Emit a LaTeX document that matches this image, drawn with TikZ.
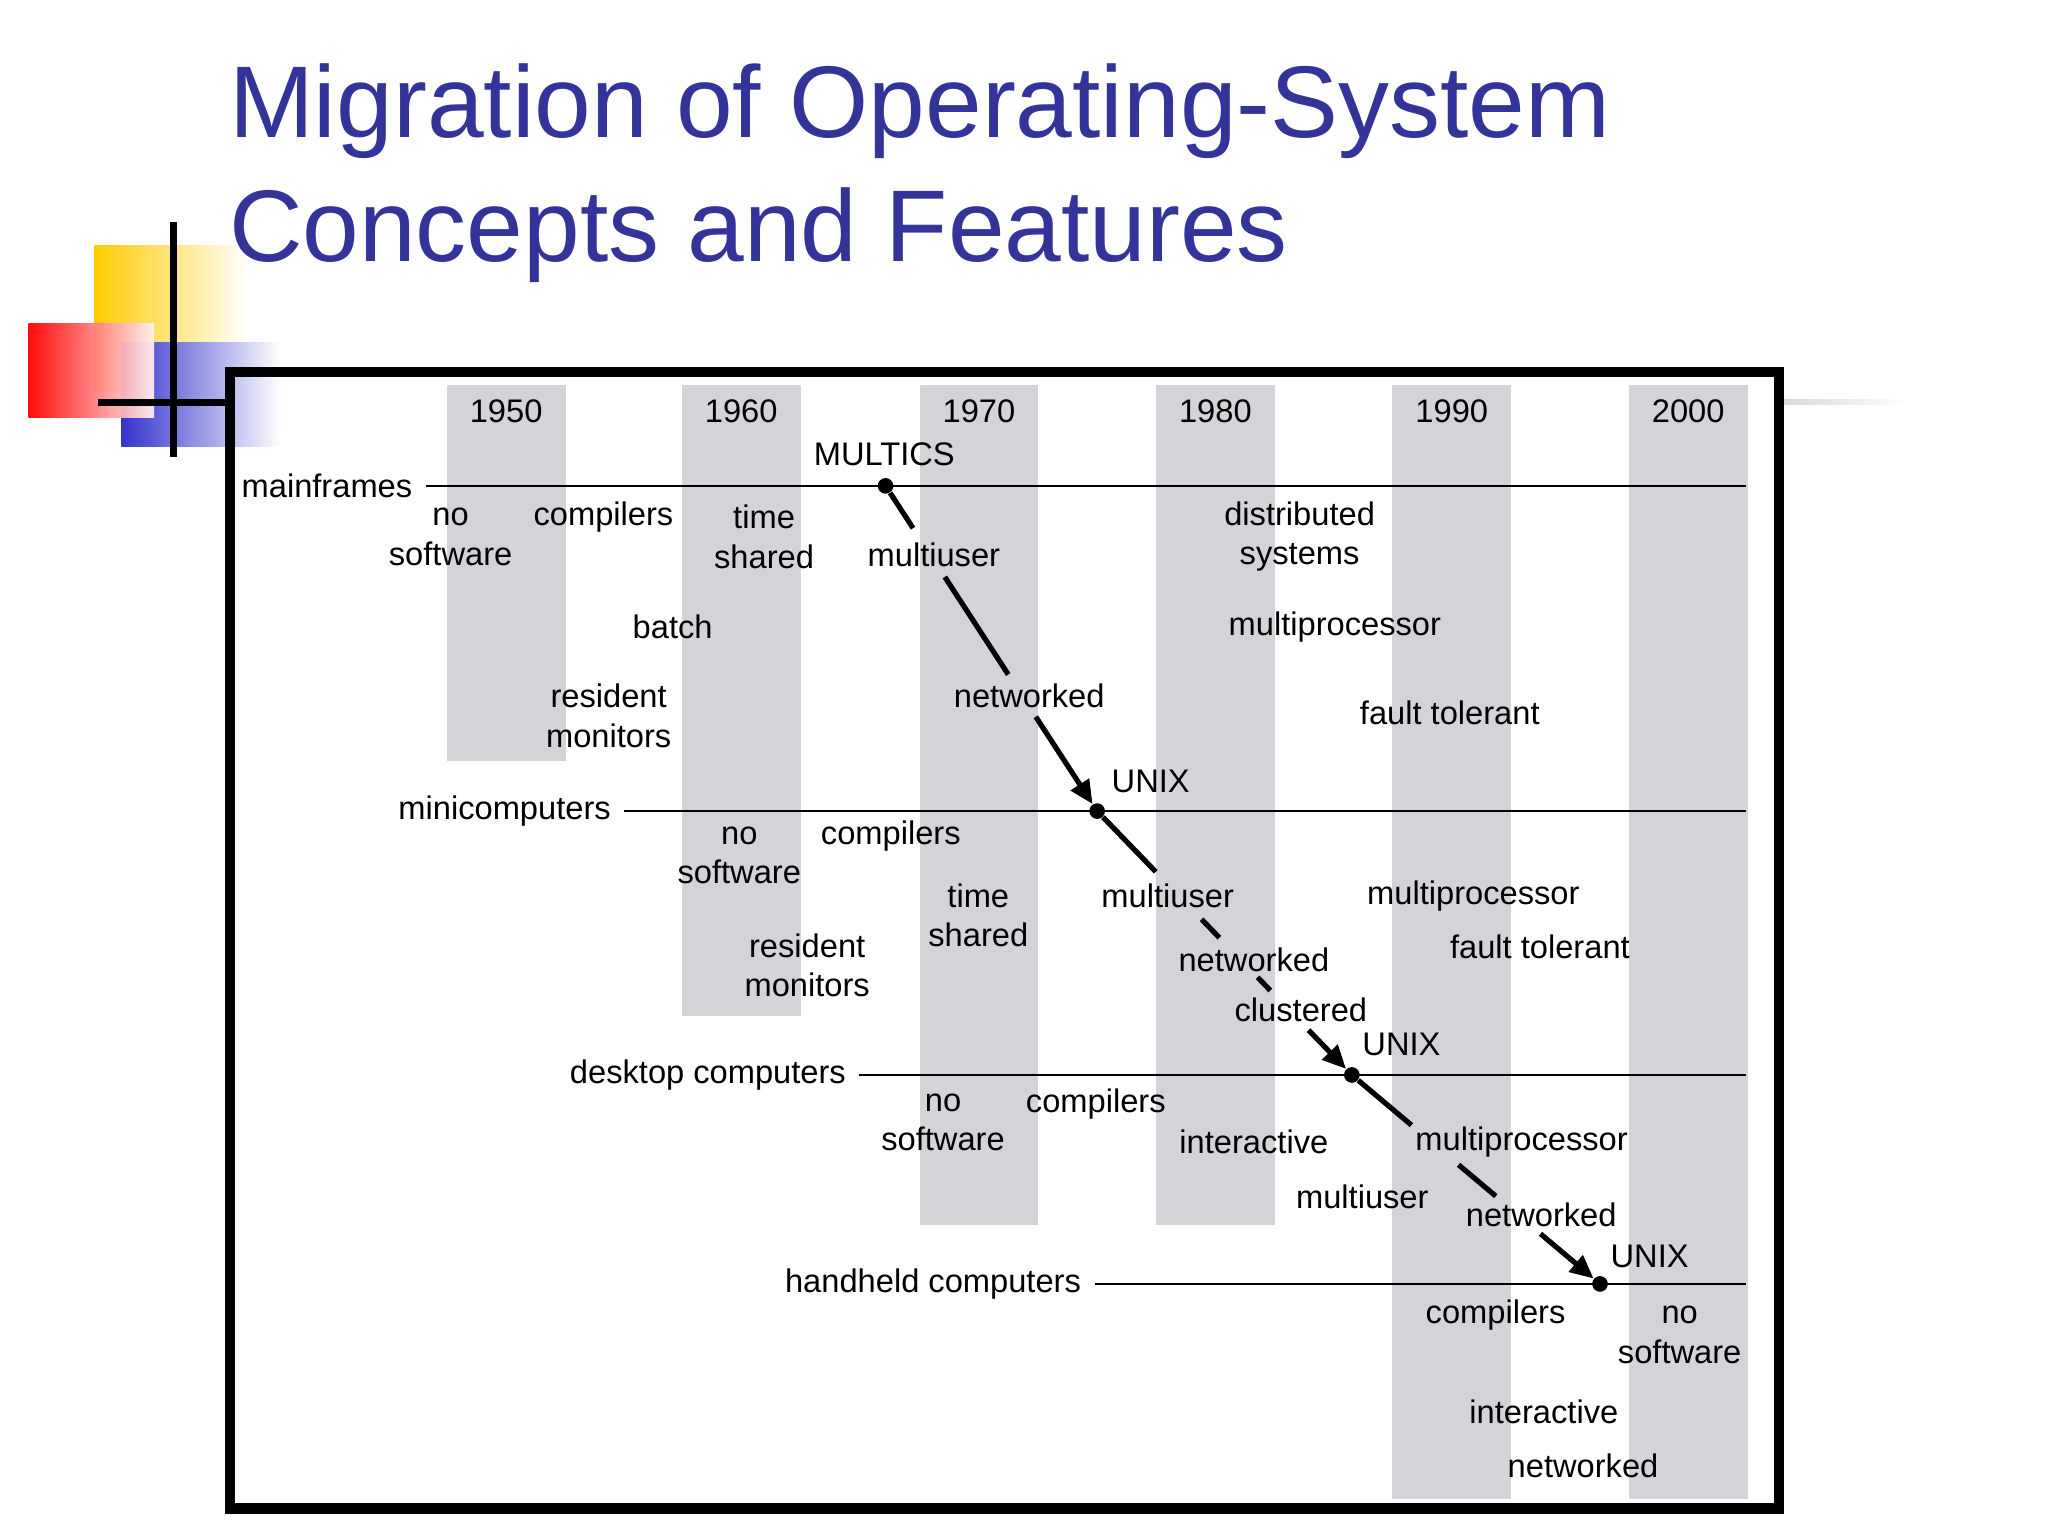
\documentclass[tikz,border=0pt]{standalone}
\usepackage{fontspec}
\setmainfont{Liberation Sans}
\usetikzlibrary{calc,arrows.meta}
\definecolor{ttl}{RGB}{51,51,153}
\definecolor{col}{RGB}{213,211,215}
\definecolor{lyel}{RGB}{255,204,0}
\definecolor{lblu}{RGB}{51,51,204}
\tikzset{lbl/.style={font=\fontsize{12.5}{15}\selectfont,align=center,inner sep=0pt},
 yr/.style={lbl},
 tl/.style={line width=1pt},
 arr/.style={line width=2pt},
 dot/.style={circle,fill=black,inner sep=0pt,minimum size=6pt}}
\begin{document}
\begin{tikzpicture}[x=0.5pt,y=-0.5pt]
\useasboundingbox (0,0) rectangle (1568,1176);
% logo
\shade[left color=lyel,right color=white] (72,188) rectangle (190,300);
\shade[left color=lblu,right color=white] (93,262) rectangle (215,342);
\shade[left color=red,right color=red!5,opacity=0.95] (22,248) rectangle (118,320);
\draw[line width=2.5pt] (133,170) -- (133,350);
\draw[line width=2.5pt] (75,308) -- (178,308);
\shade[left color=gray!30,right color=white] (1365,306) rectangle (1460,310);
% title
\node[anchor=base west,text=ttl,font=\fontsize{39}{47}\selectfont,inner sep=0pt] (t1) at (175,105) {Migration of Operating-System};
\node[anchor=base west,text=ttl,font=\fontsize{39}{47}\selectfont,inner sep=0pt] (t2) at (175,200) {Concepts and Features};
% columns
\foreach \x/\b/\y in {342/583/1950,522/778/1960,704/938/1970,885/938/1980,1066/1148/1990,1247/1148/2000}{
 \fill[col] (\x,295) rectangle ++(91,\b-295);
 \node[yr] at (\x+45.5,315) {\y};}
% frame
\draw[line width=4pt] (176,285) rectangle (1362,1155);
% timelines
\node[lbl,anchor=east] (mf) at (316,372) {mainframes};
\node[lbl,anchor=east] (mc) at (468,621) {minicomputers};
\node[lbl,anchor=east] (dc) at (648,823) {desktop computers};
\node[lbl,anchor=east] (hc) at (828,983) {handheld computers};
\coordinate (e1) at (1337,372);\coordinate (e2) at (1337,621);
\coordinate (e3) at (1337,823);\coordinate (e4) at (1337,983);
\draw[tl] ([xshift=5pt]mf.east) -- (e1);
\draw[tl] ([xshift=5pt]mc.east) -- (e2);
\draw[tl] ([xshift=5pt]dc.east) -- (e3);
\draw[tl] ([xshift=5pt]hc.east) -- (e4);
\node[dot] (d1) at (678,372) {};
\node[dot] (d2) at (840,621) {};
\node[dot] (d3) at (1035,823) {};
\node[dot] (d4) at (1225,983) {};
% arrows (segments)
\draw[arr] (d1) -- ($(d1)!0.13!(d2)$);
\draw[arr] ($(d1)!0.28!(d2)$) -- ($(d1)!0.58!(d2)$);
\draw[arr,-{Triangle[length=9pt,width=8pt]}] ($(d1)!0.71!(d2)$) -- (d2);
\draw[arr] (d2) -- ($(d2)!0.23!(d3)$);
\draw[arr] ($(d2)!0.41!(d3)$) -- ($(d2)!0.48!(d3)$);
\draw[arr] ($(d2)!0.63!(d3)$) -- ($(d2)!0.68!(d3)$);
\draw[arr,-{Triangle[length=9pt,width=8pt]}] ($(d2)!0.83!(d3)$) -- (d3);
\draw[arr] (d3) -- ($(d3)!0.24!(d4)$);
\draw[arr] ($(d3)!0.43!(d4)$) -- ($(d3)!0.58!(d4)$);
\draw[arr,-{Triangle[length=9pt,width=8pt]}] ($(d3)!0.76!(d4)$) -- (d4);
% labels mainframes
\node[lbl] (a1) at (345,411) {no\\software};
\node[lbl] (a2) at (462,396) {compilers};
\node[lbl] (a3) at (585,411) {time\\shared};
\node[lbl] (a4) at (677,348) {MULTICS};
\node[lbl] (a5) at (715,425) {multiuser};
\node[lbl] (a6) at (995,411) {distributed\\systems};
\node[lbl] (a7) at (515,480) {batch};
\node[lbl] (a8) at (1022,480) {multiprocessor};
\node[lbl] (a9) at (466,548) {resident\\monitors};
\node[lbl] (a10) at (788,533) {networked};
\node[lbl] (a11) at (1110,546) {fault tolerant};
\node[lbl] (a12) at (881,598) {UNIX};
% mini
\node[lbl] (b1) at (566,655) {no\\software};
\node[lbl] (b2) at (682,640) {compilers};
\node[lbl] (b3) at (749,701) {time\\shared};
\node[lbl] (b4) at (894,686) {multiuser};
\node[lbl] (b5) at (1128,686) {multiprocessor};
\node[lbl] (b6) at (1179,725) {fault tolerant};
\node[lbl] (b7) at (618,739) {resident\\monitors};
\node[lbl] (b8) at (960,735) {networked};
\node[lbl] (b9) at (996,773) {clustered};
\node[lbl] (b10) at (1073,800) {UNIX};
% desktop
\node[lbl] (c1) at (722,859) {no\\software};
\node[lbl] (c2) at (839,845) {compilers};
\node[lbl] (c3) at (960,874) {interactive};
\node[lbl] (c4) at (1165,874) {multiprocessor};
\node[lbl] (c5) at (1043,916) {multiuser};
\node[lbl] (c6) at (1180,930) {networked};
\node[lbl] (c7) at (1263,962) {UNIX};
% handheld
\node[lbl] (h1) at (1145,1007) {compilers};
\node[lbl] (h2) at (1286,1022) {no\\software};
\node[lbl] (h3) at (1182,1081) {interactive};
\node[lbl] (h4) at (1212,1122) {networked};
\end{tikzpicture}
\end{document}
